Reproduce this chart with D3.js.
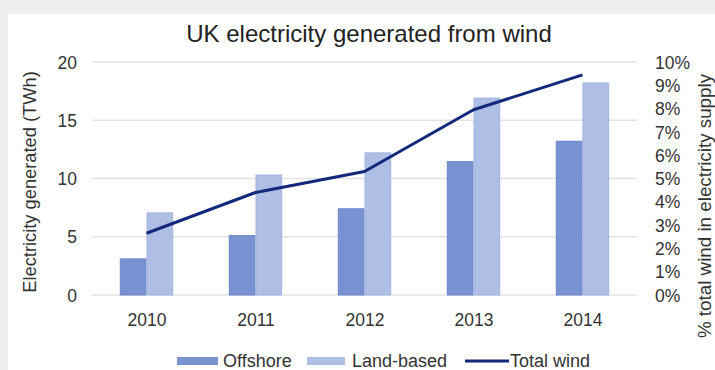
<!DOCTYPE html>
<html>
<head>
<meta charset="utf-8">
<script src="https://d3js.org/d3.v7.min.js"></script>
<style>
  body { margin: 0; background: #eef0ee; }
  svg { display: block; font-family: "Liberation Sans", Arial, sans-serif; }
</style>
</head>
<body>
<script>
// data
var years    = ["2010", "2011", "2012", "2013", "2014"];
var series   = ["Offshore", "Land-based"];
var offshore = [3.1, 5.1, 7.4, 11.45, 13.2];
var land     = [7.05, 10.3, 12.2, 16.9, 18.2];
var total    = [2.65, 4.4, 5.3, 7.95, 9.45];   // % of supply
var leftTicks  = [0, 5, 10, 15, 20];
var rightTicks = [0, 1, 2, 3, 4, 5, 6, 7, 8, 9, 10];

const W = 715, H = 370;
const pLeft = 92, pRight = 637, pTop = 62, pBottom = 295;
const font = "Liberation Sans, Arial, sans-serif";
const colors = ["#7992d2", "#afbee4"];
const strokes = ["#6b86cb", "#a2b3df"];

const svg = d3.select("body").append("svg")
  .attr("width", W).attr("height", H);

// white card
svg.append("rect").attr("x", 8).attr("y", 14)
  .attr("width", W - 8).attr("height", H - 14).attr("fill", "#fff");

var x0 = d3.scaleBand().domain(years).range([pLeft, pRight]).paddingInner(0.51).paddingOuter(0.255);
var x1 = d3.scaleBand().domain(series).range([0, x0.bandwidth()]);
var xc = d3.scalePoint().domain(years).range([pLeft, pRight]).padding(0.5);
var y = d3.scaleLinear().domain([0, 20]).range([pBottom, pTop]);
var y2 = d3.scaleLinear().domain([0, 10]).range([pBottom, pTop]);

// grid
svg.append("g").selectAll("line").data(leftTicks).enter().append("line")
  .attr("x1", pLeft).attr("x2", pRight)
  .attr("y1", d => y(d)).attr("y2", d => y(d))
  .attr("stroke", "#e3e3e3").attr("stroke-width", 1.3);

function styleTicks(sel) {
  sel.select(".domain").remove();
  sel.selectAll("text").attr("font-size", 17.5).attr("fill", "#333").attr("font-family", font);
}

// left axis
var ya = svg.append("g").attr("transform", "translate(77,0)")
  .call(d3.axisLeft(y).tickValues(leftTicks).tickSize(0).tickPadding(0));
styleTicks(ya);
ya.selectAll("text").attr("dy", "0.35em");

// right axis
var ya2 = svg.append("g").attr("transform", "translate(655,0)")
  .call(d3.axisRight(y2).tickValues(rightTicks).tickSize(0).tickPadding(0).tickFormat(d => d + "%"));
styleTicks(ya2);
ya2.selectAll("text").attr("dy", "0.35em");

// x axis
var xa = svg.append("g").attr("transform", "translate(0,326)")
  .call(d3.axisBottom(xc).tickSize(0).tickPadding(0));
styleTicks(xa);
xa.selectAll("text").attr("dy", 0);

// bars
var rows = years.map((yr, i) => ({ year: yr, vals: [offshore[i], land[i]] }));
var grp = svg.append("g").selectAll("g").data(rows).enter().append("g")
  .attr("transform", d => "translate(" + x0(d.year) + ",0)");
grp.selectAll("rect").data(d => d.vals.map((v, j) => ({ key: series[j], v: v, j: j })))
  .enter().append("rect")
  .attr("x", d => x1(d.key) + 0.5)
  .attr("y", d => y(d.v))
  .attr("width", x1.bandwidth() - 1)
  .attr("height", d => pBottom - y(d.v))
  .attr("fill", d => colors[d.j]).attr("stroke", d => strokes[d.j]).attr("stroke-width", 1);

// line
var line = d3.line().x((d, i) => xc(years[i])).y(d => y2(d));
svg.append("path").datum(total).attr("d", line)
  .attr("fill", "none").attr("stroke", "#12287a").attr("stroke-width", 3)
  .attr("stroke-linejoin", "round");

// title
svg.append("text").attr("x", 369).attr("y", 42).attr("text-anchor", "middle")
  .attr("font-size", 24).attr("fill", "#222").text("UK electricity generated from wind");

// axis titles
svg.append("text").attr("transform", "translate(36,182) rotate(-90)")
  .attr("text-anchor", "middle").attr("font-size", 18.3).attr("fill", "#333")
  .text("Electricity generated (TWh)");
svg.append("text").attr("transform", "translate(711,206) rotate(-90)")
  .attr("text-anchor", "middle").attr("font-size", 18.8).attr("fill", "#333")
  .text("% total wind in electricity supply");

// legend
var leg = svg.append("g").attr("font-size", 18).attr("fill", "#333");
leg.append("rect").attr("x", 177).attr("y", 357).attr("width", 41).attr("height", 8).attr("fill", colors[0]);
leg.append("text").attr("x", 223).attr("y", 367).text(series[0]);
leg.append("rect").attr("x", 307).attr("y", 357).attr("width", 38).attr("height", 8).attr("fill", colors[1]);
leg.append("text").attr("x", 352).attr("y", 367).text(series[1]);
leg.append("line").attr("x1", 465).attr("x2", 509).attr("y1", 361).attr("y2", 361)
  .attr("stroke", "#12287a").attr("stroke-width", 3);
leg.append("text").attr("x", 510).attr("y", 367).text("Total wind");
</script>
</body>
</html>
